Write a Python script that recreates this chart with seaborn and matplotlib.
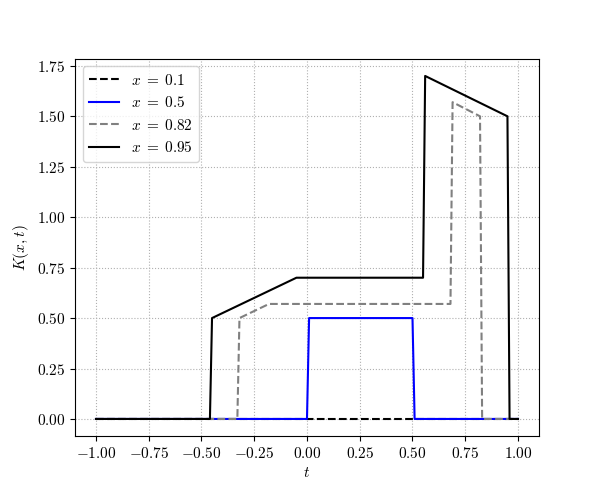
import numpy as np
import pandas as pd
import matplotlib
matplotlib.use('Agg')
import matplotlib.pyplot as plt
import matplotlib.ticker as mticker
import seaborn as sns

plt.rcParams['mathtext.fontset'] = 'cm'
plt.rcParams['font.family'] = 'serif'
plt.rcParams['font.serif'] = ['DejaVu Serif']
plt.rcParams['font.size'] = 11

# breakpoints of K(x, t)
t_01 = [-1.0, 1.0]
k_01 = [0.0, 0.0]

t_05 = [-1.0, 0.0, 0.01, 0.50, 0.51, 1.0]
k_05 = [0.0, 0.0, 0.50, 0.50, 0.0, 0.0]

t_082 = [-1.0, -0.33, -0.32, -0.18, 0.68, 0.69, 0.82, 0.83, 1.0]
k_082 = [0.0, 0.0, 0.50, 0.57, 0.57, 1.57, 1.50, 0.0, 0.0]

t_095 = [-1.0, -0.46, -0.45, -0.05, 0.55, 0.56, 0.95, 0.96, 1.0]
k_095 = [0.0, 0.0, 0.50, 0.70, 0.70, 1.70, 1.50, 0.0, 0.0]

series = [
    (t_01, k_01, r'$x\;=\;0.1$', 'k', '--'),
    (t_05, k_05, r'$x\;=\;0.5$', 'b', '-'),
    (t_082, k_082, r'$x\;=\;0.82$', 'gray', '--'),
    (t_095, k_095, r'$x\;=\;0.95$', 'k', '-'),
]

fig, ax = plt.subplots(figsize=(5.99, 4.9), dpi=100)

for t, k, lab, col, ls in series:
    df = pd.DataFrame({'t': t, 'K': k})
    sns.lineplot(data=df, x='t', y='K', sort=False, estimator=None,
                 color=col, linestyle=ls, linewidth=1.5, label=lab, ax=ax)

ax.set_xticks(np.arange(-1.0, 1.01, 0.25))
ax.set_yticks(np.arange(0.0, 1.76, 0.25))
fmt = mticker.FuncFormatter(lambda v, p: '$%.2f$' % v)
ax.xaxis.set_major_formatter(fmt)
ax.yaxis.set_major_formatter(fmt)
ax.grid(True, linestyle=':', color='#b0b0b0', linewidth=0.8)
ax.set_xlabel(r'$t$')
ax.set_ylabel(r'$K(x,t)$')
ax.legend(loc='upper left')

plt.savefig('out.png')
